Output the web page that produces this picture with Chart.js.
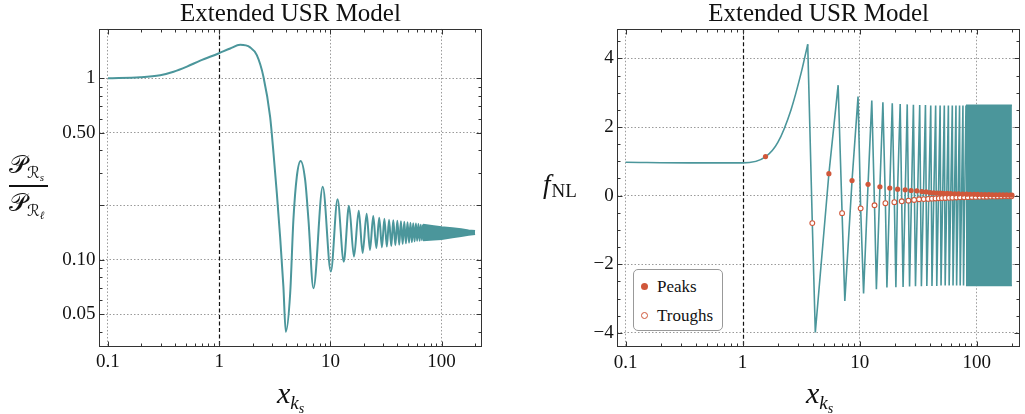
<!DOCTYPE html>
<html><head><meta charset="utf-8">
<script src="https://cdn.jsdelivr.net/npm/chart.js@4.4.1/dist/chart.umd.min.js"></script>
<style>
html,body{margin:0;padding:0;background:#fff;width:1025px;height:414px;overflow:hidden;}
.wrap{position:absolute;top:0;height:414px;}
.lbl{position:absolute;font-family:"Liberation Serif","DejaVu Serif",serif;color:#111;white-space:nowrap;line-height:1;}
.it{font-style:italic;}
.scr{font-family:"DejaVu Serif","DejaVu Sans","Liberation Serif",serif;font-style:normal;}
.sub{position:relative;}
#legend{position:absolute;left:633px;top:269px;width:88px;height:60px;border:1px solid #999;border-radius:5px;background:#fff;font-family:"Liberation Serif",serif;font-size:17px;color:#111;}
#legend .row{position:absolute;left:0;height:20px;line-height:20px;}
#legend .dot{position:absolute;left:7px;width:7px;height:7px;border-radius:50%;box-sizing:border-box;}
#legend .txt{position:absolute;left:23px;}
</style></head><body>
<div class="wrap" style="left:0;width:512px"><canvas id="cL" width="512" height="414"></canvas></div>
<div class="wrap" style="left:512px;width:513px"><canvas id="cR" width="513" height="414"></canvas></div>

<div class="lbl" style="left:9px;top:152px;font-size:25px"><span class="scr it">𝒫</span><span class="sub" style="font-size:16px;top:5px"><span class="scr it">ℛ</span><span class="it sub" style="font-size:11px;top:3px">s</span></span></div>
<div style="position:absolute;left:9px;top:185px;width:39px;height:1.5px;background:#111"></div>
<div class="lbl" style="left:9px;top:190px;font-size:25px"><span class="scr it">𝒫</span><span class="sub" style="font-size:16px;top:5px"><span class="scr it">ℛ</span><span class="it sub" style="font-size:11px;top:3px">ℓ</span></span></div>

<div class="lbl it" style="left:277px;top:378px;font-size:30px">x<span class="sub" style="font-size:19px;top:6px">k<span class="sub" style="font-size:14px;top:4px">s</span></span></div>
<div class="lbl it" style="left:806px;top:378px;font-size:30px">x<span class="sub" style="font-size:19px;top:6px">k<span class="sub" style="font-size:14px;top:4px">s</span></span></div>

<div class="lbl" style="left:543px;top:171px;font-size:27px"><span class="it">f</span><span class="sub" style="font-size:19px;top:4px;margin-left:1px">NL</span></div>

<div id="legend">
  <div class="row" style="top:7px;width:88px"><div class="dot" style="top:6px;background:#d0573a"></div><div class="txt">Peaks</div></div>
  <div class="row" style="top:36px;width:88px"><div class="dot" style="top:6px;background:#fff;border:1.3px solid #d0573a"></div><div class="txt">Troughs</div></div>
</div>

<script>
// ---------------- DATA ----------------
// Left panel: P_Rs / P_Rl  (log-log)
const pRatioX = [0.1,0.195,0.295,0.389,0.513,0.675,0.985,1.256,1.545,1.9,2.18,2.5,2.87,3.08,3.3,3.53,3.78,3.97,4.35,4.65,4.99,5.4,5.93,6.35,7.04,8.54,10.1,11.6,13.2,14.7,16.3,18.0,19.5,21.2,22.7,24.3,25.9,27.5,29.1,30.6,32.2,33.7,35.3,36.8,38.4,40.0,41.6,43.1,44.7,46.2,47.8,49.4,51.0,52.5,54.1,55.6,57.2,58.8,60.3,61.9,63.5,65.0,66.6,68.1];
const pRatioY = [1.0,1.013,1.04,1.087,1.16,1.25,1.37,1.46,1.53,1.48,1.34,1.02,0.614,0.386,0.232,0.134,0.071,0.040,0.0653,0.166,0.287,0.35,0.275,0.166,0.0695,0.252,0.086,0.215,0.0975,0.198,0.104,0.186,0.109,0.179,0.113,0.174,0.116,0.170,0.117,0.168,0.118,0.166,0.119,0.165,0.120,0.164,0.121,0.163,0.122,0.162,0.123,0.161,0.124,0.160,0.125,0.159,0.126,0.158,0.127,0.157,0.127,0.156,0.128,0.156];
const pBandX  = [68.1,85,100,125,150,175,200];
const pBandUp = [0.156,0.153,0.151,0.149,0.147,0.145,0.144];
const pBandLo = [0.128,0.129,0.130,0.133,0.135,0.137,0.1386];

// Right panel: f_NL
const fnlSmoothX = [0.1,0.352,1.0,1.58,2.0,2.59,3.16,3.6];
const fnlSmoothY = [0.974,0.955,0.955,1.14,1.55,2.5,3.57,4.41];
const fnlOscX = [3.6,3.94,4.18,5.46,6.55,7.08,7.47,8.61,9.69,10.2,10.8,11.8,12.7,13.4,13.9,14.9,15.8,16.6,17.1,18.1,19.0,19.8,20.4,21.1,22.2,23.5,25.5,26.7,28.8,30.0,32.6,33.7,36.5,37.5,40.5,41.5,44.6,45.6,48.7,49.6,52.9,53.8,57.3,58.2,61.9,62.8,66.5,67.4,71.4,72.3,76.3,77.2,81.0];
const fnlOscY = [4.41,-0.80,-3.99,0.64,3.22,-0.51,-3.07,0.44,2.89,-0.37,-2.85,0.33,2.77,-0.28,-2.73,0.26,2.72,-0.22,-2.68,0.22,2.69,-0.19,-2.67,0.19,2.67,-2.66,2.66,-2.65,2.65,-2.64,2.64,-2.64,2.64,-2.63,2.63,-2.63,2.63,-2.63,2.63,-2.62,2.63,-2.62,2.63,-2.62,2.63,-2.62,2.63,-2.62,2.63,-2.62,2.63,-2.62,2.63];
const fnlBandX  = [81.0,200];
const fnlBandUp = [2.63,2.63];
const fnlBandLo = [-2.62,-2.62];

const peaksX = [1.57,5.46,8.61,11.8,14.9,18.1,21.1,24.5,27.5,30.8,34,37,40,43,46,49,52,56,60,65,70,76,82,88,95,102,110,118,127,136,146,157,168,180,192,200];
const peaksY = [1.14,0.64,0.44,0.33,0.26,0.22,0.19,0.17,0.15,0.14,0.12,0.11,0.09,0.084,0.078,0.073,0.069,0.064,0.06,0.055,0.051,0.047,0.044,0.041,0.038,0.035,0.033,0.031,0.028,0.026,0.025,0.023,0.021,0.02,0.019,0.018];
const troughsX = [3.94,7.08,10.2,13.4,16.6,19.8,22.9,26.1,29.2,32.2,35.3,38.5,41.5,44.5,47.5,50.5,54,58,62,67,72,78,84,91,98,106,114,122,131,141,151,162,174,186,198];
const troughsY = [-0.80,-0.51,-0.37,-0.28,-0.22,-0.19,-0.165,-0.145,-0.125,-0.105,-0.10,-0.094,-0.087,-0.081,-0.076,-0.072,-0.067,-0.062,-0.058,-0.054,-0.05,-0.046,-0.043,-0.04,-0.037,-0.034,-0.032,-0.03,-0.028,-0.026,-0.024,-0.022,-0.021,-0.02,-0.019];

// Ticks
const xMajor = [0.1,1,10,100];
const xMajorLabels = ['0.1','1','10','100'];
const xMinor = [0.2,0.3,0.4,0.5,0.6,0.7,0.8,0.9,2,3,4,5,6,7,8,9,20,30,40,50,60,70,80,90,200];
const yLeftMajor = [0.05,0.1,0.2,0.5,1];
const yLeftLabels = ['0.05','0.10','','0.50','1'];
const yLeftMinor = [0.04,0.06,0.07,0.08,0.09,0.3,0.4,0.6,0.7,0.8,0.9];
const yRightMajor = [-4,-2,0,2,4];
const yRightLabels = ['\u22124','\u22122','0','2','4'];
const yRightMinor = [-3.5,-3,-2.5,-1.5,-1,-0.5,0.5,1,1.5,2.5,3,3.5,4.5];
const refLineX = 1;
const titleText = 'Extended USR Model';

// ---------------- STYLE ----------------
const TEAL = '#4b969b';
const RED = '#d0573a';
const serif = '"Liberation Serif", serif';
const pts = (xs, ys) => xs.map((x, i) => ({x, y: ys[i]}));

function framePlugin(xMin, yMaj, yMin) {
  return {
    id: 'frameTicks',
    beforeDatasetsDraw(chart) {
      const {ctx, chartArea: a, scales: {x}} = chart;
      const px = Math.round(x.getPixelForValue(refLineX)) + 0.5;
      ctx.save();
      ctx.strokeStyle = '#111'; ctx.lineWidth = 1.2; ctx.setLineDash([4, 2.5]);
      ctx.beginPath(); ctx.moveTo(px, a.top); ctx.lineTo(px, a.bottom); ctx.stroke();
      ctx.restore();
    },
    afterDraw(chart) {
      const {ctx, chartArea: a, scales: {x, y}} = chart;
      ctx.save();
      ctx.strokeStyle = '#333'; ctx.lineWidth = 1;
      const L = Math.round(a.left) + 0.5, R = Math.round(a.right) - 0.5;
      const T = Math.round(a.top) + 0.5, B = Math.round(a.bottom) - 0.5;
      ctx.strokeRect(L, T, R - L, B - T);
      ctx.beginPath();
      const xt = (v, len) => { const p = Math.round(x.getPixelForValue(v)) + 0.5; if (p < L || p > R) return;
        ctx.moveTo(p, B); ctx.lineTo(p, B - len); ctx.moveTo(p, T); ctx.lineTo(p, T + len); };
      const yt = (v, len) => { const p = Math.round(y.getPixelForValue(v)) + 0.5; if (p < T || p > B) return;
        ctx.moveTo(L, p); ctx.lineTo(L + len, p); ctx.moveTo(R, p); ctx.lineTo(R - len, p); };
      xMajor.forEach(v => xt(v, 5)); xMin.forEach(v => xt(v, 3));
      yMaj.forEach(v => yt(v, 5)); yMin.forEach(v => yt(v, 3));
      ctx.stroke();
      ctx.restore();
    }
  };
}

function baseOptions(o) {
  return {
    responsive: false, animation: false, devicePixelRatio: 1,
    layout: {padding: {left: 0, right: o.padRight, top: 0, bottom: 0}},
    plugins: {
      legend: {display: false}, tooltip: {enabled: false},
      title: {display: true, text: titleText, fullSize: false, color: '#111',
              font: {family: serif, size: 25, weight: 'normal', lineHeight: 1.15}, padding: {top: o.titleTop, bottom: 0}}
    },
    scales: {
      x: {
        type: 'logarithmic', min: o.xmin, max: o.xmax,
        afterBuildTicks: s => { s.ticks = xMajor.map(v => ({value: v})); },
        afterFit: s => { s.height = o.xh; },
        ticks: {autoSkip: false, maxRotation: 0, padding: 4, color: '#111', font: {family: serif, size: 19},
                callback: v => { const i = xMajor.indexOf(v); return i >= 0 ? xMajorLabels[i] : ''; }},
        grid: {drawTicks: false, lineWidth: 1, color: c => (c.tick && c.tick.value === refLineX) ? 'rgba(0,0,0,0)' : '#9a9a9a'},
        border: {display: false, dash: [1.5, 2]}
      },
      y: {
        type: o.ytype, min: o.ymin, max: o.ymax,
        afterBuildTicks: s => { s.ticks = o.yMaj.map(v => ({value: v})); },
        afterFit: s => { s.width = o.yw; },
        ticks: {autoSkip: false, padding: 3.5, color: '#111', font: {family: serif, size: 19},
                callback: v => { const i = o.yMaj.indexOf(v); return i >= 0 ? o.yLab[i] : ''; }},
        grid: {drawTicks: false, lineWidth: 1, color: '#9a9a9a'},
        border: {display: false, dash: [1.5, 2]}
      }
    }
  };
}

new Chart(document.getElementById('cL'), {
  type: 'line',
  data: {datasets: [
    {data: pts(pRatioX, pRatioY), borderColor: TEAL, borderWidth: 2, pointRadius: 0, cubicInterpolationMode: 'monotone', fill: false},
    {data: pts(pBandX, pBandUp), borderColor: TEAL, borderWidth: 2, pointRadius: 0, backgroundColor: TEAL, fill: '+1'},
    {data: pts(pBandX, pBandLo), borderColor: TEAL, borderWidth: 2, pointRadius: 0, fill: false}
  ]},
  options: baseOptions({padRight: 30, titleTop: 0.2, xmin: 0.083, xmax: 231, xh: 67, ytype: 'logarithmic', ymin: 0.033, ymax: 1.87,
                        yw: 99, yMaj: yLeftMajor, yLab: yLeftLabels}),
  plugins: [framePlugin(xMinor, yLeftMajor, yLeftMinor)]
});

new Chart(document.getElementById('cR'), {
  type: 'line',
  data: {datasets: [
    {data: pts(peaksX, peaksY), showLine: false, pointRadius: 2.6, pointBorderWidth: 0, pointBackgroundColor: RED, pointBorderColor: RED},
    {data: pts(troughsX, troughsY), showLine: false, pointRadius: 2.4, pointBorderWidth: 1.1, pointBackgroundColor: '#fff', pointBorderColor: RED},
    {data: pts(fnlSmoothX, fnlSmoothY), borderColor: TEAL, borderWidth: 1.6, pointRadius: 0, cubicInterpolationMode: 'monotone', fill: false},
    {data: pts(fnlOscX, fnlOscY), borderColor: TEAL, borderWidth: 1.6, pointRadius: 0, tension: 0, fill: false},
    {data: pts(fnlBandX, fnlBandUp), borderColor: TEAL, borderWidth: 1.6, pointRadius: 0, backgroundColor: TEAL, fill: '+1'},
    {data: pts(fnlBandX, fnlBandLo), borderColor: TEAL, borderWidth: 1.6, pointRadius: 0, fill: false}
  ]},
  options: baseOptions({padRight: 3, titleTop: 0.5, xmin: 0.085, xmax: 234, xh: 66.7, ytype: 'linear', ymin: -4.42, ymax: 4.85,
                        yw: 105.3, yMaj: yRightMajor, yLab: yRightLabels}),
  plugins: [framePlugin(xMinor, yRightMajor, yRightMinor)]
});
</script>
</body></html>
